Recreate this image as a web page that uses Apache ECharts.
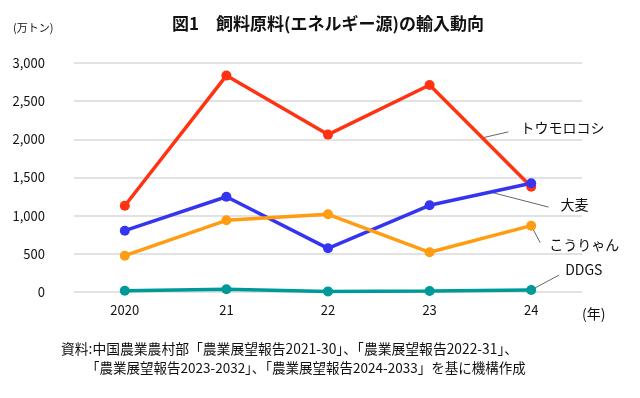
<!DOCTYPE html>
<html>
<head>
<meta charset="utf-8">
<script src="https://cdn.jsdelivr.net/npm/echarts@6/dist/echarts.min.js"></script>
<style>
  html, body { margin: 0; padding: 0; background: #fff; }
  #chart { width: 640px; height: 398px; }
</style>
</head>
<body>
<div id="chart"></div>
<script>
// 年（カテゴリ）
var years = ['2020', '21', '22', '23', '24']
// 各原料の輸入量（万トン）
var corn = [1130, 2835, 2062, 2712, 1380]
var barley = [803, 1248, 572, 1136, 1424]
var sorghum = [476, 939, 1018, 520, 869]
var ddgs = [17, 35, 8, 12, 26]
var seriesNames = ['トウモロコシ', '大麦', 'こうりゃん', 'DDGS']
var yTicks = [0, 500, 1000, 1500, 2000, 2500, 3000]

var FONT = '"Noto Sans CJK JP", "Noto Sans", sans-serif'
var colors = ['#ff3311', '#3535f0', '#ff9c12', '#00999a']

var myChart = echarts.init(document.getElementById('chart'))

function lineSeries (name, data, color) {
  return {
    name: name,
    type: 'line',
    data: data,
    symbol: 'circle',
    symbolSize: 10,
    lineStyle: { color: color, width: 3.5 },
    itemStyle: { color: color },
    emphasis: { disabled: true },
    z: 3,
  }
}

var option = {
  animation: false,
  textStyle: { fontFamily: FONT },
  title: {
    text: '図1　飼料原料(エネルギー源)の輸入動向',
    left: 323,
    top: 10,
    textAlign: 'center',
    textStyle: { fontSize: 17, fontWeight: 'bold', color: '#111', fontFamily: FONT },
  },
  grid: { left: 74, right: 58, top: 63, bottom: 106 },
  xAxis: {
    type: 'category',
    data: years,
    axisLine: { show: false },
    axisTick: { show: false },
    axisLabel: { color: '#111', fontSize: 13, margin: 12, fontFamily: FONT },
  },
  yAxis: {
    type: 'value',
    min: yTicks[0],
    max: yTicks[yTicks.length - 1],
    interval: 500,
    axisLine: { show: false },
    axisTick: { show: false },
    splitLine: { lineStyle: { color: '#d9d9d9', width: 1.5 } },
    axisLabel: {
      color: '#111',
      fontSize: 13,
      margin: 29,
      fontFamily: FONT,
      formatter: function (v) { return v.toLocaleString('en-US') },
    },
  },
  series: [
    lineSeries(seriesNames[0], corn, colors[0]),
    lineSeries(seriesNames[1], barley, colors[1]),
    lineSeries(seriesNames[2], sorghum, colors[2]),
    lineSeries(seriesNames[3], ddgs, colors[3]),
  ],
}
myChart.setOption(option)

// 注記（系列名と引き出し線）
function px (i, v) {
  return myChart.convertToPixel({ gridIndex: 0 }, [i, v])
}
function lerp (a, b, t) {
  return [a[0] + (b[0] - a[0]) * t, a[1] + (b[1] - a[1]) * t]
}
var pCorn = lerp(px(3, corn[3]), px(4, corn[4]), 0.52)
var pBarley = lerp(px(3, barley[3]), px(4, barley[4]), 0.6)
var pSorghum = px(4, sorghum[4])
var pDdgs = px(4, ddgs[4])

var leaderStyle = { stroke: '#666', lineWidth: 1 }
var labelStyle = { fontSize: 14, fill: '#111', fontFamily: FONT, verticalAlign: 'middle' }

function leader (p, dx, dy) {
  return { type: 'line', shape: { x1: p[0], y1: p[1], x2: p[0] + dx, y2: p[1] + dy }, style: leaderStyle }
}
function label (p, dx, dy, text) {
  return { type: 'text', x: p[0] + dx, y: p[1] + dy, style: Object.assign({ text: text }, labelStyle) }
}

myChart.setOption({
  graphic: [
    { type: 'text', left: 13, top: 22, style: { text: '(万トン)', fontSize: 11, fill: '#111', fontFamily: FONT } },
    { type: 'text', left: 582, top: 307, style: { text: '(年)', fontSize: 14, fill: '#111', fontFamily: FONT } },
    {
      type: 'text',
      left: 61,
      top: 342,
      style: {
        text: '資料:中国農業農村部「農業展望報告2021-30」、「農業展望報告2022-31」、',
        fontSize: 13.8, fill: '#111', fontFamily: FONT,
      },
    },
    {
      type: 'text',
      left: 86,
      top: 361,
      style: {
        text: '「農業展望報告2023-2032」、「農業展望報告2024-2033」を基に機構作成',
        fontSize: 13.5, fill: '#111', fontFamily: FONT,
      },
    },
    leader(pCorn, 26, -6),
    label(pCorn, 38, -10, seriesNames[0]),
    leader(pBarley, 58, 15),
    label(pBarley, 70, 13, seriesNames[1]),
    leader(pSorghum, 9, 17),
    label(pSorghum, 18, 19, seriesNames[2]),
    leader(pDdgs, 28, -15),
    label(pDdgs, 34, -20, seriesNames[3]),
  ],
})

window.onresize = myChart.resize
</script>
</body>
</html>
